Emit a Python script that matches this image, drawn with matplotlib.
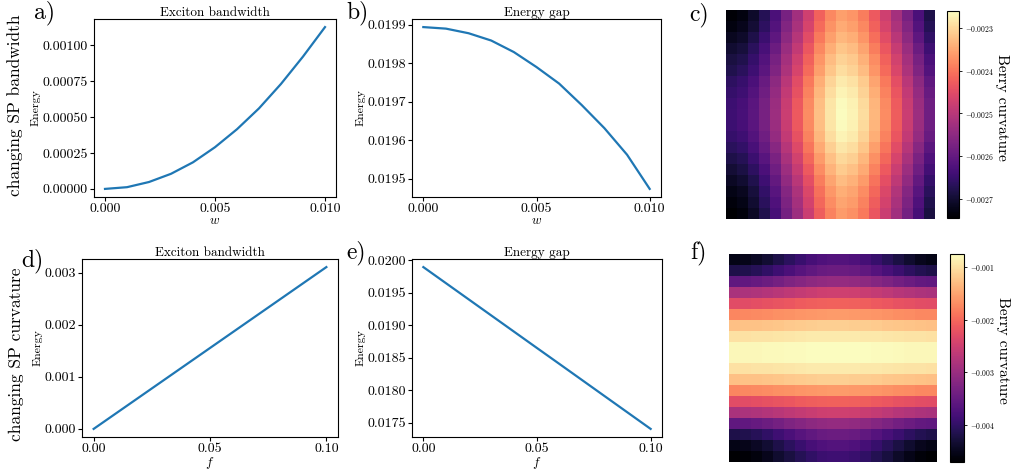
import numpy as np
import matplotlib
matplotlib.use("Agg")
import matplotlib.pyplot as plt
from matplotlib.ticker import MultipleLocator

plt.rcParams['font.family'] = 'cmr10'
plt.rcParams['mathtext.fontset'] = 'cm'
plt.rcParams['axes.formatter.use_mathtext'] = True
plt.rcParams['axes.unicode_minus'] = True

# ---------------- data ----------------
w_vals = [0.000, 0.001, 0.002, 0.003, 0.004, 0.005, 0.006, 0.007, 0.008, 0.009, 0.010]
bw_vs_w = [0.0, 0.000012, 0.000048, 0.000105, 0.000185, 0.00029, 0.000415,
           0.00056, 0.00073, 0.00092, 0.001125]
gap_vs_w = [0.019894, 0.019890, 0.019878, 0.019859, 0.019829, 0.019790,
            0.019747, 0.019691, 0.019631, 0.019562, 0.019473]

f_vals = [0.00, 0.01, 0.02, 0.03, 0.04, 0.05, 0.06, 0.07, 0.08, 0.09, 0.10]
bw_vs_f = [0.0, 0.000311, 0.000622, 0.000933, 0.001244, 0.001555, 0.001866,
           0.002177, 0.002488, 0.002799, 0.003110]
gap_vs_f = [0.019892, 0.019643, 0.019394, 0.019145, 0.018896, 0.018647,
            0.018399, 0.018150, 0.017901, 0.017652, 0.017403]

# Berry curvature maps (units of 1e-6)
berry_c = [
    [-2740, -2730, -2706, -2672, -2629, -2575, -2527, -2473, -2420, -2381, -2357, -2367, -2391, -2430, -2473, -2522, -2575, -2629, -2682],
    [-2730, -2720, -2696, -2662, -2619, -2565, -2517, -2463, -2410, -2371, -2347, -2357, -2381, -2420, -2463, -2512, -2565, -2619, -2672],
    [-2716, -2706, -2682, -2648, -2605, -2551, -2503, -2449, -2396, -2357, -2333, -2343, -2367, -2406, -2449, -2498, -2551, -2605, -2658],
    [-2701, -2691, -2667, -2633, -2590, -2536, -2488, -2434, -2381, -2342, -2318, -2328, -2352, -2391, -2434, -2483, -2536, -2590, -2643],
    [-2687, -2677, -2653, -2619, -2576, -2522, -2474, -2420, -2367, -2328, -2304, -2314, -2338, -2377, -2420, -2469, -2522, -2576, -2629],
    [-2677, -2667, -2643, -2609, -2566, -2512, -2464, -2410, -2357, -2318, -2294, -2304, -2328, -2367, -2410, -2459, -2512, -2566, -2619],
    [-2662, -2652, -2628, -2594, -2551, -2497, -2449, -2395, -2342, -2303, -2279, -2289, -2313, -2352, -2395, -2444, -2497, -2551, -2604],
    [-2653, -2643, -2619, -2585, -2542, -2488, -2440, -2386, -2333, -2294, -2270, -2280, -2304, -2343, -2386, -2435, -2488, -2542, -2595],
    [-2645, -2635, -2611, -2577, -2534, -2480, -2432, -2378, -2325, -2286, -2262, -2272, -2296, -2335, -2378, -2427, -2480, -2534, -2587],
    [-2643, -2633, -2609, -2575, -2532, -2478, -2430, -2376, -2323, -2284, -2260, -2270, -2294, -2333, -2376, -2425, -2478, -2532, -2585],
    [-2645, -2635, -2611, -2577, -2534, -2480, -2432, -2378, -2325, -2286, -2262, -2272, -2296, -2335, -2378, -2427, -2480, -2534, -2587],
    [-2653, -2643, -2619, -2585, -2542, -2488, -2440, -2386, -2333, -2294, -2270, -2280, -2304, -2343, -2386, -2435, -2488, -2542, -2595],
    [-2667, -2657, -2633, -2599, -2556, -2502, -2454, -2400, -2347, -2308, -2284, -2294, -2318, -2357, -2400, -2449, -2502, -2556, -2609],
    [-2682, -2672, -2648, -2614, -2571, -2517, -2469, -2415, -2362, -2323, -2299, -2309, -2333, -2372, -2415, -2464, -2517, -2571, -2624],
    [-2696, -2686, -2662, -2628, -2585, -2531, -2483, -2429, -2376, -2337, -2313, -2323, -2347, -2386, -2429, -2478, -2531, -2585, -2638],
    [-2711, -2701, -2677, -2643, -2600, -2546, -2498, -2444, -2391, -2352, -2328, -2338, -2362, -2401, -2444, -2493, -2546, -2600, -2653],
    [-2725, -2715, -2691, -2657, -2614, -2560, -2512, -2458, -2405, -2366, -2342, -2352, -2376, -2415, -2458, -2507, -2560, -2614, -2667],
    [-2735, -2725, -2701, -2667, -2624, -2570, -2522, -2468, -2415, -2376, -2352, -2362, -2386, -2425, -2468, -2517, -2570, -2624, -2677],
    [-2745, -2735, -2711, -2677, -2634, -2580, -2532, -2478, -2425, -2386, -2362, -2372, -2396, -2435, -2478, -2527, -2580, -2634, -2687],
]

berry_f = [
    [-4538, -4503, -4425, -4313, -4183, -4045, -3915, -3802, -3716, -3672, -3672, -3724, -3811, -3932, -4070, -4218, -4356, -4469, -4529],
    [-4183, -4153, -4086, -3989, -3876, -3757, -3645, -3548, -3473, -3435, -3435, -3480, -3555, -3660, -3779, -3906, -4026, -4123, -4176],
    [-3554, -3533, -3487, -3421, -3344, -3262, -3186, -3119, -3068, -3042, -3042, -3073, -3124, -3196, -3278, -3365, -3447, -3513, -3549],
    [-2845, -2831, -2799, -2753, -2700, -2643, -2590, -2544, -2508, -2491, -2491, -2512, -2547, -2597, -2654, -2714, -2771, -2817, -2841],
    [-2295, -2286, -2264, -2234, -2198, -2160, -2125, -2094, -2071, -2059, -2059, -2073, -2097, -2130, -2167, -2208, -2245, -2276, -2293],
    [-1744, -1738, -1723, -1703, -1679, -1654, -1631, -1610, -1594, -1587, -1587, -1596, -1612, -1634, -1659, -1686, -1711, -1731, -1742],
    [-1271, -1266, -1256, -1240, -1223, -1204, -1186, -1171, -1159, -1153, -1153, -1160, -1172, -1188, -1207, -1227, -1246, -1262, -1270],
    [-996, -993, -986, -976, -964, -951, -939, -929, -921, -917, -917, -922, -930, -941, -953, -967, -979, -990, -995],
    [-819, -817, -811, -804, -795, -785, -777, -769, -763, -760, -760, -764, -769, -778, -787, -797, -807, -814, -818],
    [-819, -817, -811, -804, -795, -785, -777, -769, -763, -760, -760, -764, -769, -778, -787, -797, -807, -814, -818],
    [-996, -993, -986, -976, -964, -951, -939, -929, -921, -917, -917, -922, -930, -941, -953, -967, -979, -990, -995],
    [-1271, -1266, -1256, -1240, -1223, -1204, -1186, -1171, -1159, -1153, -1153, -1160, -1172, -1188, -1207, -1227, -1246, -1262, -1270],
    [-1744, -1738, -1723, -1703, -1679, -1654, -1631, -1610, -1594, -1587, -1587, -1596, -1612, -1634, -1659, -1686, -1711, -1731, -1742],
    [-2295, -2286, -2264, -2234, -2198, -2160, -2125, -2094, -2071, -2059, -2059, -2073, -2097, -2130, -2167, -2208, -2245, -2276, -2293],
    [-2845, -2831, -2799, -2753, -2700, -2643, -2590, -2544, -2508, -2491, -2491, -2512, -2547, -2597, -2654, -2714, -2771, -2817, -2841],
    [-3554, -3533, -3487, -3421, -3344, -3262, -3186, -3119, -3068, -3042, -3042, -3073, -3124, -3196, -3278, -3365, -3447, -3513, -3549],
    [-4183, -4153, -4086, -3989, -3876, -3757, -3645, -3548, -3473, -3435, -3435, -3480, -3555, -3660, -3779, -3906, -4026, -4123, -4176],
    [-4538, -4503, -4425, -4313, -4183, -4045, -3915, -3802, -3716, -3672, -3672, -3724, -3811, -3932, -4070, -4218, -4356, -4469, -4529],
    [-4695, -4662, -4588, -4480, -4356, -4224, -4100, -3993, -3910, -3869, -3869, -3918, -4001, -4117, -4249, -4389, -4522, -4629, -4687],
]

row_labels = ["changing SP bandwidth", "changing SP curvature"]
panel_labels = ["a)", "b)", "c)", "d)", "e)", "f)"]
titles = ["Exciton bandwidth", "Energy gap"]
cbar_label = "Berry curvature"

# ---------------- figure ----------------
W, H = 1013, 473
fig = plt.figure(figsize=(W / 100, H / 100), dpi=100)


def px_axes(x0, y0, x1, y1):
    return fig.add_axes([x0 / W, 1 - y1 / H, (x1 - x0) / W, (y1 - y0) / H])


TICK_FS = 10
line_color = '#1f77b4'


def line_panel(box, x, y, xt, xtl, ystep, yfmt, title, xlabel):
    ax = px_axes(*box)
    ax.plot(x, y, color=line_color, lw=1.6)
    ax.set_xticks(xt)
    ax.set_xticklabels(xtl)
    ax.yaxis.set_major_locator(MultipleLocator(ystep))
    ax.yaxis.set_major_formatter(plt.FuncFormatter(lambda v, p: yfmt % v))
    ax.tick_params(labelsize=TICK_FS, length=3, width=0.8, pad=1.5)
    ax.set_title(title, fontsize=9.5, pad=2)
    ax.set_ylabel("Energy", fontsize=8.5, labelpad=1)
    ax.set_xlabel(xlabel, fontsize=9.5, labelpad=0)
    return ax


line_panel((94, 19, 336, 197), w_vals, bw_vs_w, [0.0, 0.005, 0.010],
           ["0.000", "0.005", "0.010"], 0.00025, "%.5f", titles[0], r"$w$")
line_panel((412, 19, 661, 197), w_vals, gap_vs_w, [0.0, 0.005, 0.010],
           ["0.000", "0.005", "0.010"], 0.0001, "%.4f", titles[1], r"$w$")
line_panel((82, 259, 338, 437), f_vals, bw_vs_f, [0.0, 0.05, 0.10],
           ["0.00", "0.05", "0.10"], 0.001, "%.3f", titles[0], r"$f$")
line_panel((412, 259, 662, 437), f_vals, gap_vs_f, [0.0, 0.05, 0.10],
           ["0.00", "0.05", "0.10"], 0.0005, "%.4f", titles[1], r"$f$")


# heatmaps
def heat(ax_box, cax_box, data, step, fmt):
    ax = px_axes(*ax_box)
    arr = np.array(data, dtype=float) * 1e-6
    im = ax.imshow(arr, cmap='magma', aspect='auto', interpolation='nearest')
    ax.axis('off')
    cax = px_axes(*cax_box)
    cb = fig.colorbar(im, cax=cax)
    cb.locator = MultipleLocator(step)
    cb.formatter = plt.FuncFormatter(
        lambda v, p: (r"$-%s$" % (fmt % abs(v))) if v < 0 else fmt % v)
    cb.update_ticks()
    cb.ax.tick_params(labelsize=5.5, length=2.5, width=0.6, pad=1.5)
    cb.outline.set_linewidth(0.8)
    cb.set_label(cbar_label, rotation=270, fontsize=11, labelpad=11)
    cb.ax.yaxis.label.set_y(0.535)
    return ax, cb


heat((726, 10, 934, 219), (947, 11, 959, 218), berry_c, 0.0001, "%.4f")
heat((729, 254, 937, 462), (950, 254, 964, 462), berry_f, 0.001, "%.3f")

# panel labels
label_pos = [(34, 0), (346, 0), (689, 2), (21, 248), (346, 240), (690, 240)]
for lab, (x, y) in zip(panel_labels, label_pos):
    fig.text(x / W, 1 - y / H, lab, fontsize=17, ha='left', va='top')

fig.text(15 / W, 1 - 105 / H, row_labels[0], rotation=90, fontsize=12.5,
         ha='center', va='center')
fig.text(16 / W, 1 - 354 / H, row_labels[1], rotation=90, fontsize=12.5,
         ha='center', va='center')

fig.savefig("out.png", dpi=100)
